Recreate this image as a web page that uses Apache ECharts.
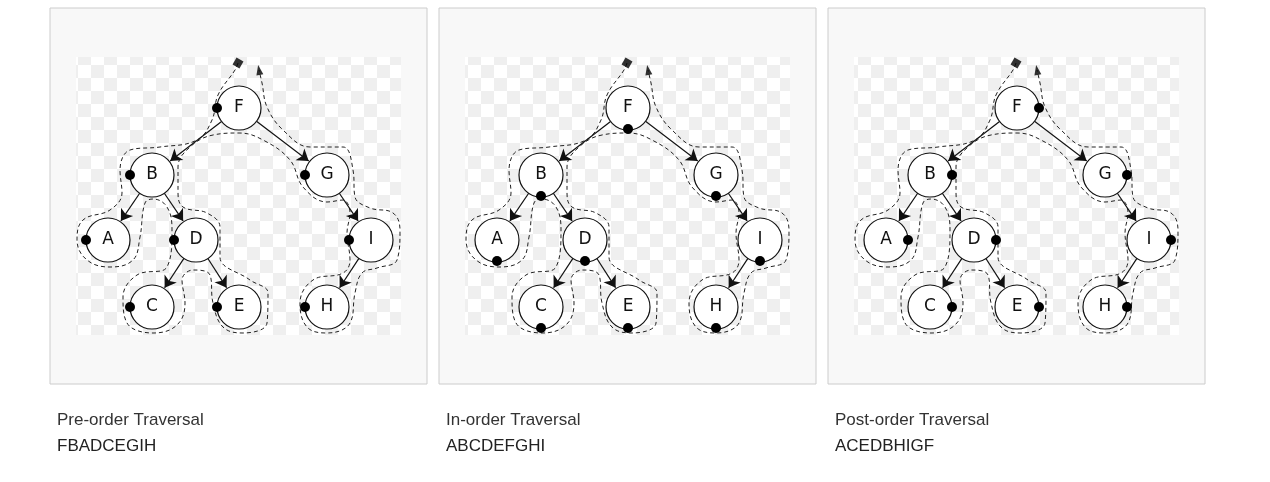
<!DOCTYPE html>
<html>
<head>
<meta charset="utf-8">
<script src="https://cdn.jsdelivr.net/npm/echarts@6/dist/echarts.min.js"></script>
<style>html,body{margin:0;padding:0;background:#fff}#main{width:1270px;height:482px}</style>
</head>
<body>
<div id="main"></div>
<script>
// 节点 (坐标按第一幅图的像素估读)
var nodeNames = ['F', 'B', 'G', 'A', 'D', 'I', 'C', 'E', 'H'];
var nodeX = [239, 152, 327, 108, 196, 371, 152, 239, 327];
var nodeY = [108, 175, 175, 240, 240, 240, 307, 307, 307];
var edges = [['F', 'B'], ['F', 'G'], ['B', 'A'], ['B', 'D'], ['D', 'C'], ['D', 'E'], ['G', 'I'], ['I', 'H']];

// 遍历外轮廓 (虚线)
var contourX = [238, 235, 218, 212, 197, 160, 130, 120, 122, 110, 83, 77, 87, 110, 133, 140, 145, 153, 167, 172, 167, 137, 123, 127, 153, 177, 185, 182, 193, 210, 213, 223, 243, 267, 268, 250, 220, 220, 207, 183, 178, 178, 190, 213, 239, 263, 290, 303, 327, 343, 350, 347, 350, 343, 313, 300, 307, 327, 350, 355, 362, 377, 397, 400, 393, 370, 355, 353, 343, 310, 283, 267, 262, 259];
var contourY = [63, 70, 95, 120, 140, 147, 150, 170, 193, 210, 220, 240, 260, 267, 260, 237, 203, 199, 207, 230, 267, 275, 297, 323, 333, 325, 303, 280, 270, 275, 303, 327, 333, 323, 293, 280, 257, 227, 213, 207, 193, 167, 147, 135, 133, 140, 160, 187, 202, 200, 213, 233, 260, 273, 280, 303, 327, 333, 323, 293, 273, 268, 260, 230, 213, 208, 197, 170, 147, 147, 130, 107, 83, 70];

var panels = [
    { left: 50, title: 'Pre-order Traversal', order: 'FBADCEGIH', dx: -22, dy: 0 },
    { left: 439, title: 'In-order Traversal', order: 'ABCDEFGHI', dx: 0, dy: 21 },
    { left: 828, title: 'Post-order Traversal', order: 'ACEDBHIGF', dx: 22, dy: 0 }
];

var R = 22;

// 棋盘格背景
var cv = document.createElement('canvas');
cv.width = 26; cv.height = 26;
var cx = cv.getContext('2d');
cx.fillStyle = '#ffffff'; cx.fillRect(0, 0, 26, 26);
cx.fillStyle = '#efefef'; cx.fillRect(0, 0, 13, 13); cx.fillRect(13, 13, 13, 13);

var myChart = echarts.init(document.getElementById('main'));

var grid = [], xAxis = [], yAxis = [], series = [], title = [], graphic = [];
var contour = contourX.map(function (x, i) { return [x, contourY[i]]; });

function pos(name) {
    var i = nodeNames.indexOf(name);
    return [nodeX[i], nodeY[i]];
}

// 连线 (截去节点半径)
var edgeData = edges.map(function (e) {
    var a = pos(e[0]), b = pos(e[1]);
    var ddx = b[0] - a[0], ddy = b[1] - a[1], len = Math.sqrt(ddx * ddx + ddy * ddy);
    return { coords: [[a[0] + ddx / len * R, a[1] + ddy / len * R], [b[0] - ddx / len * (R + 1), b[1] - ddy / len * (R + 1)]] };
});

panels.forEach(function (p, k) {
    grid.push({ left: p.left, top: 8, width: 377, height: 376, show: true, backgroundColor: '#f8f8f8', borderColor: '#cccccc', borderWidth: 1 });
    xAxis.push({ gridIndex: k, type: 'value', min: 50, max: 427, show: false });
    yAxis.push({ gridIndex: k, type: 'value', min: 8, max: 384, inverse: true, show: false });
    graphic.push({ type: 'rect', z: 0, shape: { x: p.left + 26, y: 57, width: 325, height: 278 }, style: { fill: { image: cv, repeat: 'repeat' } } });
    title.push({
        text: p.title, subtext: p.order, left: p.left + 2, top: 407, itemGap: 9,
        textStyle: { fontFamily: 'Liberation Sans', fontWeight: 'normal', fontSize: 17, color: '#333' },
        subtextStyle: { fontFamily: 'Liberation Sans', fontSize: 17, color: '#222' }
    });

    series.push({
        type: 'lines', coordinateSystem: 'cartesian2d', xAxisIndex: k, yAxisIndex: k, data: edgeData,
        symbol: ['none', 'arrow'], symbolSize: 11,
        lineStyle: { color: '#111', width: 1.2, opacity: 1 }, silent: true, z: 3
    });

    series.push({
        type: 'line', xAxisIndex: k, yAxisIndex: k, data: contour, smooth: 0.4, showSymbol: false,
        lineStyle: { color: '#222', width: 1, type: [4, 3] }, silent: true, z: 2
    });
    series.push({
        type: 'scatter', xAxisIndex: k, yAxisIndex: k, data: [contour[0]], symbol: 'rect', symbolSize: 8, symbolRotate: -30,
        itemStyle: { color: '#000' }, z: 6
    });
    series.push({
        type: 'scatter', xAxisIndex: k, yAxisIndex: k, data: [contour[contour.length - 1]], symbol: 'triangle', symbolSize: [7, 10], symbolRotate: 10,
        itemStyle: { color: '#000' }, z: 6
    });

    series.push({
        type: 'scatter', xAxisIndex: k, yAxisIndex: k, symbolSize: R * 2,
        data: nodeNames.map(function (n, i) { return { value: [nodeX[i], nodeY[i]], name: n }; }),
        itemStyle: { color: '#fff', borderColor: '#111', borderWidth: 1.2, opacity: 1 },
        label: { show: true, formatter: '{b}', color: '#111', fontSize: 17, fontFamily: 'DejaVu Sans' }, z: 4
    });
    series.push({
        type: 'scatter', xAxisIndex: k, yAxisIndex: k, symbolSize: 10,
        data: nodeNames.map(function (n, i) { return [nodeX[i] + p.dx, nodeY[i] + p.dy]; }),
        itemStyle: { color: '#000', opacity: 1 }, z: 5
    });
});

var option = {
    animation: false,
    title: title,
    grid: grid,
    xAxis: xAxis,
    yAxis: yAxis,
    graphic: graphic,
    series: series
};

myChart.setOption(option);
window.onresize = myChart.resize;
</script>
</body>
</html>
